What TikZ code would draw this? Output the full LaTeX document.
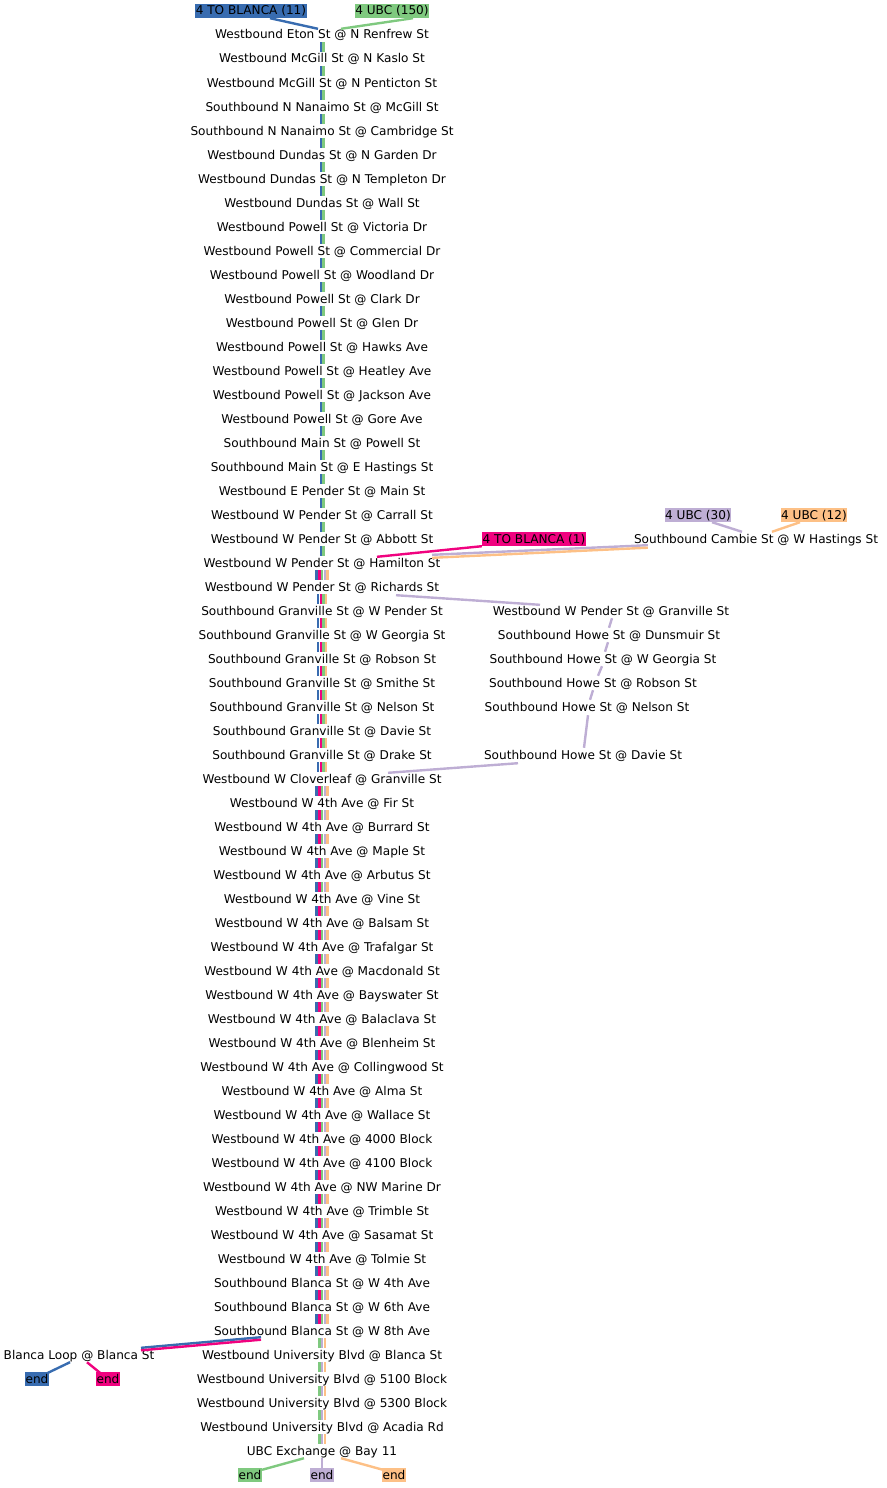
\documentclass[tikz,border=0pt]{standalone}
\usepackage{fontspec}
\setmainfont{DejaVu Sans}
\usetikzlibrary{calc}
\definecolor{transitBlue}{HTML}{386CB0}
\definecolor{transitGreen}{HTML}{7FC97F}
\definecolor{transitPurple}{HTML}{BEAED4}
\definecolor{transitOrange}{HTML}{FDC086}
\definecolor{transitPink}{HTML}{F0027F}

\begin{document}
\begin{tikzpicture}[x=1pt,y=-1pt,font=\fontsize{12.1}{14}\selectfont,
   stoplbl/.style={inner sep=0pt,text height=9pt,text depth=1pt,minimum height=14pt},
   routetag/.style={stoplbl,inner xsep=0.6pt},
   leg/.style={line width=2.4pt}]
  \useasboundingbox (0,0) rectangle (886,1488);

  % main column of stops
  \foreach \txt [count=\k from 0] in {
      Westbound Eton St @ N Renfrew St, Westbound McGill St @ N Kaslo St,
      Westbound McGill St @ N Penticton St, Southbound N Nanaimo St @ McGill St,
      Southbound N Nanaimo St @ Cambridge St, Westbound Dundas St @ N Garden Dr,
      Westbound Dundas St @ N Templeton Dr, Westbound Dundas St @ Wall St,
      Westbound Powell St @ Victoria Dr, Westbound Powell St @ Commercial Dr,
      Westbound Powell St @ Woodland Dr, Westbound Powell St @ Clark Dr,
      Westbound Powell St @ Glen Dr, Westbound Powell St @ Hawks Ave,
      Westbound Powell St @ Heatley Ave, Westbound Powell St @ Jackson Ave,
      Westbound Powell St @ Gore Ave, Southbound Main St @ Powell St,
      Southbound Main St @ E Hastings St, Westbound E Pender St @ Main St,
      Westbound W Pender St @ Carrall St, Westbound W Pender St @ Abbott St,
      Westbound W Pender St @ Hamilton St, Westbound W Pender St @ Richards St,
      Southbound Granville St @ W Pender St, Southbound Granville St @ W Georgia St,
      Southbound Granville St @ Robson St, Southbound Granville St @ Smithe St,
      Southbound Granville St @ Nelson St, Southbound Granville St @ Davie St,
      Southbound Granville St @ Drake St, Westbound W Cloverleaf @ Granville St,
      Westbound W 4th Ave @ Fir St, Westbound W 4th Ave @ Burrard St,
      Westbound W 4th Ave @ Maple St, Westbound W 4th Ave @ Arbutus St,
      Westbound W 4th Ave @ Vine St, Westbound W 4th Ave @ Balsam St,
      Westbound W 4th Ave @ Trafalgar St, Westbound W 4th Ave @ Macdonald St,
      Westbound W 4th Ave @ Bayswater St, Westbound W 4th Ave @ Balaclava St,
      Westbound W 4th Ave @ Blenheim St, Westbound W 4th Ave @ Collingwood St,
      Westbound W 4th Ave @ Alma St, Westbound W 4th Ave @ Wallace St,
      Westbound W 4th Ave @ 4000 Block, Westbound W 4th Ave @ 4100 Block,
      Westbound W 4th Ave @ NW Marine Dr, Westbound W 4th Ave @ Trimble St,
      Westbound W 4th Ave @ Sasamat St, Westbound W 4th Ave @ Tolmie St,
      Southbound Blanca St @ W 4th Ave, Southbound Blanca St @ W 6th Ave,
      Southbound Blanca St @ W 8th Ave, Westbound University Blvd @ Blanca St,
      Westbound University Blvd @ 5100 Block, Westbound University Blvd @ 5300 Block,
      Westbound University Blvd @ Acadia Rd, UBC Exchange @ Bay 11}
    \node[stoplbl] (s\k) at (322,{35+24*\k}) {\txt};

  % side stops
  \node[stoplbl] (cambie) at (756,539) {Southbound Cambie St @ W Hastings St};
  \node[stoplbl] (pgran) at (611,611) {Westbound W Pender St @ Granville St};
  \node[stoplbl] (howe1) at (609,635) {Southbound Howe St @ Dunsmuir St};
  \node[stoplbl] (howe2) at (603,659) {Southbound Howe St @ W Georgia St};
  \node[stoplbl] (howe3) at (593,683) {Southbound Howe St @ Robson St};
  \node[stoplbl] (howe4) at (587,707) {Southbound Howe St @ Nelson St};
  \node[stoplbl] (howe5) at (583,755) {Southbound Howe St @ Davie St};
  \node[stoplbl] (loop) at (79,1355) {Blanca Loop @ Blanca St};

  % route tags and ends
  \node[routetag,fill=transitBlue] (tagBlanca11) at (251,11) {4 TO BLANCA (11)};
  \node[routetag,fill=transitGreen] (tagUbc150) at (392,11) {4 UBC (150)};
  \node[routetag,fill=transitPurple] (tagUbc30) at (698,515) {4 UBC (30)};
  \node[routetag,fill=transitOrange] (tagUbc12) at (814,515) {4 UBC (12)};
  \node[routetag,fill=transitPink] (tagBlanca1) at (534,539) {4 TO BLANCA (1)};
  \node[routetag,fill=transitBlue] (endBlue) at (37,1379) {end};
  \node[routetag,fill=transitPink] (endPink) at (108,1379) {end};
  \node[routetag,fill=transitGreen] (endGreen) at (250,1475) {end};
  \node[routetag,fill=transitPurple] (endPurple) at (322,1475) {end};
  \node[routetag,fill=transitOrange] (endOrange) at (394,1475) {end};

  % trunk bundles
  \foreach \a [evaluate=\a as \b using int(\a+1)] in {0,...,21}
    \foreach \c/\dx in {transitBlue/-1.3,transitGreen/1.3}
      \draw[leg,\c] ([xshift=\dx]s\a.south) -- ([xshift=\dx]s\b.north);
  \foreach \a [evaluate=\a as \b using int(\a+1)] in {22,31,32,...,53}
    \foreach \c/\dx in {transitBlue/-5.4,transitPink/-2.7,transitGreen/0,
                        transitPurple/2.7,transitOrange/5.4}
      \draw[leg,\c] ([xshift=\dx]s\a.south) -- ([xshift=\dx]s\b.north);
  \foreach \a [evaluate=\a as \b using int(\a+1)] in {23,...,30}
    \foreach \c/\dx in {transitBlue/-4,transitPink/-1.3,transitGreen/1.3,
                        transitOrange/4}
      \draw[leg,\c] ([xshift=\dx]s\a.south) -- ([xshift=\dx]s\b.north);
  \foreach \a [evaluate=\a as \b using int(\a+1)] in {54,...,58}
    \foreach \c/\dx in {transitGreen/-2.7,transitPurple/0,transitOrange/2.7}
      \draw[leg,\c] ([xshift=\dx]s\a.south) -- ([xshift=\dx]s\b.north);

  % feeders into the trunk
  \draw[leg,transitBlue] ($(tagBlanca11.south)+(19,0)$) -- ($(s0.north)+(-4,1)$);
  \draw[leg,transitGreen] ($(tagUbc150.south)+(21,0)$) -- ($(s0.north)+(19,1)$);
  \draw[leg,transitPurple] ($(tagUbc30.south)+(14,0)$) -- ($(cambie.north)+(-14,0)$);
  \draw[leg,transitOrange] ($(tagUbc12.south)+(-14,0)$) -- ($(cambie.north)+(16,0)$);
  \draw[leg,transitPink] (tagBlanca1.south west) -- ($(s22.north)+(55,1)$);
  \draw[leg,transitPurple] ($(cambie.south west)+(14,-1)$) -- ($(s22.north)+(110,-1)$);
  \draw[leg,transitOrange] ($(cambie.south west)+(14,1.5)$) -- ($(s22.north)+(110,2)$);

  % Howe St detour
  \draw[leg,transitPurple] ($(s23.south)+(74,1)$) -- ($(pgran.north)+(-71,1)$);
  \draw[leg,transitPurple] ($(pgran.south)+(1,0)$) -- ($(howe1.north)+(0,0)$);
  \draw[leg,transitPurple] ($(howe1.south)+(-1,0)$) -- ($(howe2.north)+(2,0)$);
  \draw[leg,transitPurple] ($(howe2.south)+(-1,0)$) -- ($(howe3.north)+(5,0)$);
  \draw[leg,transitPurple] (howe3.south) -- ($(howe4.north)+(3,0)$);
  \draw[leg,transitPurple] ($(howe4.south)+(1,1)$) -- ($(howe5.north)+(1,0)$);
  \draw[leg,transitPurple] ($(howe5.south)+(-65,1)$) -- ($(s31.north)+(66,1)$);

  % branch to Blanca Loop
  \draw[leg,transitBlue] ($(s54.south)+(-61,-1)$) -- ($(loop.north)+(62,0)$);
  \draw[leg,transitPink] ($(s54.south)+(-61,1.5)$) -- ($(loop.north)+(62,2.5)$);
  \draw[leg,transitBlue] ($(loop.south)+(-9,0)$) -- ($(endBlue.north)+(11,1)$);
  \draw[leg,transitPink] ($(loop.south)+(8,0)$) -- ($(endPink.north)+(-8,1)$);

  % terminus
  \draw[leg,transitGreen] ($(s59.south)+(-18,0)$) -- ($(endGreen.north)+(12,2)$);
  \draw[leg,transitPurple] (s59.south) -- (endPurple.north);
  \draw[leg,transitOrange] ($(s59.south)+(19,0)$) -- ($(endOrange.north)+(-11,2)$);
\end{tikzpicture}
\end{document}
